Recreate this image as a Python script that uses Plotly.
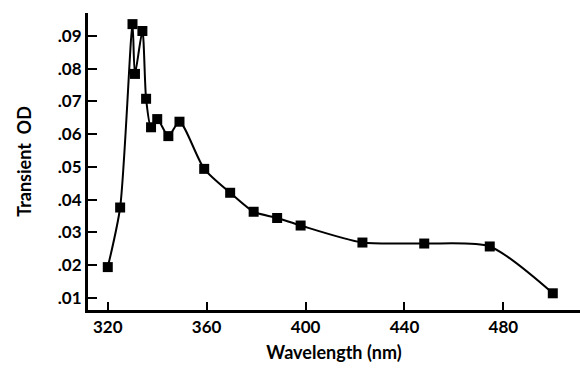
import plotly.graph_objects as go

wavelength = [320, 325, 330, 331, 334, 335.5, 337.5, 340, 344.5, 349, 359, 369.5, 379, 388.5, 398, 423, 448, 474.5, 500]
transient_od = [0.0194, 0.0376, 0.0936, 0.0784, 0.0915, 0.0708, 0.0621, 0.0646, 0.0594, 0.0638,
                0.0494, 0.0421, 0.0363, 0.0344, 0.0321, 0.0269, 0.0266, 0.0257, 0.0114]

x_ticks = [320, 360, 400, 440, 480]
y_ticks = [0.01, 0.02, 0.03, 0.04, 0.05, 0.06, 0.07, 0.08, 0.09]
y_labels = [".01", ".02", ".03", ".04", ".05", ".06", ".07", ".08", ".09"]

font_family = "Lato, 'DejaVu Sans', sans-serif"

fig = go.Figure()
fig.add_trace(go.Scatter(
    x=wavelength, y=transient_od, mode="lines+markers",
    line=dict(color="black", width=2, shape="spline", smoothing=0.7),
    marker=dict(symbol="square", size=10, color="black"),
    showlegend=False,
))

fig.update_layout(
    width=580, height=368,
    margin=dict(l=88, r=0, t=13, b=58),
    paper_bgcolor="white", plot_bgcolor="white",
    font=dict(family=font_family, size=17, color="black", weight="bold"),
)
fig.update_xaxes(
    range=[312, 511], tickvals=x_ticks, showgrid=False, zeroline=False,
    showline=True, linecolor="black", linewidth=3,
    ticks="inside", ticklen=8, tickwidth=2, tickcolor="black",
    title=dict(text="Wavelength (nm)", standoff=10, font=dict(size=18, weight="bold")),
)
fig.update_yaxes(
    range=[0.0063, 0.097], tickvals=y_ticks, ticktext=y_labels, showgrid=False, zeroline=False,
    showline=True, linecolor="black", linewidth=3,
    ticks="inside", ticklen=9, tickwidth=2, tickcolor="black",
    title=dict(text="Transient  OD", standoff=22, font=dict(size=18, weight="bold")),
)

fig.write_html("out.html")
